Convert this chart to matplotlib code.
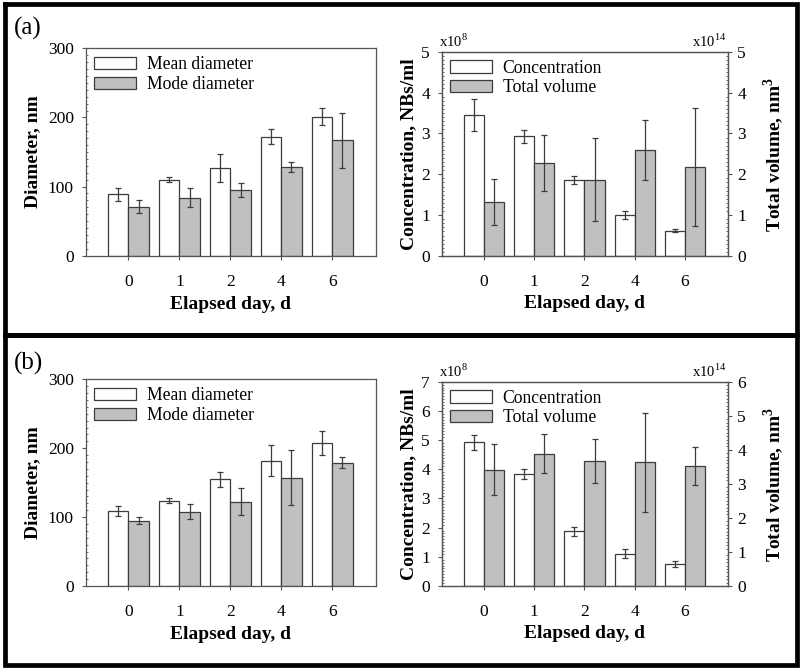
import numpy as np
import matplotlib
matplotlib.use("Agg")
import matplotlib.pyplot as plt
from matplotlib.ticker import AutoMinorLocator, MultipleLocator
from matplotlib.lines import Line2D

plt.rcParams['font.family'] = ['Liberation Serif', 'DejaVu Serif']
plt.rcParams['mathtext.fontset'] = 'custom'
plt.rcParams['mathtext.rm'] = 'Liberation Serif'
plt.rcParams['mathtext.bf'] = 'Liberation Serif:bold'

days = ['0', '1', '2', '4', '6']

# panel (a)
mean_a = [89, 110, 127, 172, 201]
mean_a_err = [9.6, 3.9, 20.7, 11, 12.6]
mode_a = [71, 84, 95, 128, 167]
mode_a_err = [9.6, 13.3, 10.6, 7.5, 39.8]
conc_a = [3.45, 2.93, 1.86, 1.01, 0.62]          # x10^8 NBs/ml
conc_a_err = [0.39, 0.16, 0.11, 0.10, 0.03]
vol_a = [1.32, 2.27, 1.87, 2.60, 2.18]           # x10^14 nm^3
vol_a_err = [0.57, 0.69, 1.01, 0.73, 1.45]

# panel (b)
mean_b = [109, 124, 155, 182, 208]
mean_b_err = [7.3, 3.9, 10.9, 23, 17.4]
mode_b = [95, 108, 122, 157, 179]
mode_b_err = [5.1, 10.4, 19.6, 40, 8.3]
conc_b = [4.93, 3.85, 1.87, 1.11, 0.74]
conc_b_err = [0.26, 0.17, 0.15, 0.16, 0.10]
vol_b = [3.42, 3.89, 3.67, 3.63, 3.52]
vol_b_err = [0.76, 0.57, 0.65, 1.46, 0.55]

W, H = 800, 669
fig = plt.figure(figsize=(W / 100, H / 100), dpi=100)

EDGE = '#3c3c3c'
GRAY = '#c0c0c0'
TICK_FS = 12.5
LABEL_FS = 14
ekw = dict(ecolor='#3c3c3c', elinewidth=0.9, capsize=2.5, capthick=0.9)


def box(l, t, r, b):
    return [l / W, 1 - b / H, (r - l) / W, (b - t) / H]


def style(ax, ymax, major):
    x = np.arange(len(days))
    ax.set_xlim(-0.84, 4.85)
    ax.set_ylim(0, ymax)
    ax.set_xticks(x)
    ax.set_xticklabels(days)
    ax.yaxis.set_major_locator(MultipleLocator(major))
    ax.yaxis.set_minor_locator(AutoMinorLocator(10))
    ax.tick_params(axis='x', which='both', direction='out', length=3, pad=10,
                   labelsize=TICK_FS, color='#555555', top=False)
    ax.tick_params(axis='y', which='major', direction='out', length=3, pad=5.5,
                   labelsize=TICK_FS, color='#555555', right=False)
    ax.tick_params(axis='y', which='minor', direction='in', length=1.5,
                   width=0.6, color='#555555', right=False)
    for s in ax.spines.values():
        s.set_color('#555555')
        s.set_linewidth(0.9)
    ax.set_xlabel('Elapsed day, d', fontsize=LABEL_FS, fontweight='bold')
    ax.xaxis.set_label_coords(0.5, -0.192)
    ax.xaxis.label.set_va('top')


def legend(ax, handles, labels):
    ax.legend(handles, labels, loc='upper left', bbox_to_anchor=(0.0, 1.0),
              frameon=False, fontsize=12.7, handlelength=2.4,
              handleheight=0.68, handletextpad=0.6, labelspacing=0.16,
              borderaxespad=0.3, borderpad=0.15)


def diameter_plot(rect, mean, mean_err, mode, mode_err):
    ax = fig.add_axes(rect)
    x = np.arange(len(days))
    b1 = ax.bar(x - 0.2, mean, 0.4, yerr=mean_err, color='white',
                edgecolor=EDGE, linewidth=0.9, error_kw=ekw)
    b2 = ax.bar(x + 0.2, mode, 0.4, yerr=mode_err, color=GRAY,
                edgecolor=EDGE, linewidth=0.9, error_kw=ekw)
    style(ax, 300, 100)
    ax.set_ylabel('Diameter, nm', fontsize=LABEL_FS, fontweight='bold')
    ax.yaxis.set_label_coords(-0.155, 0.5)
    legend(ax, [b1, b2], ['Mean diameter', 'Mode diameter'])
    return ax


def conc_plot(rect, conc, conc_err, vol, vol_err, lmax, rmax):
    ax = fig.add_axes(rect)
    x = np.arange(len(days))
    b1 = ax.bar(x - 0.2, conc, 0.4, yerr=conc_err, color='white',
                edgecolor=EDGE, linewidth=0.9, error_kw=ekw)
    style(ax, lmax, 1)
    ax.set_ylabel('Concentration, NBs/ml', fontsize=LABEL_FS, fontweight='bold')
    ax.yaxis.set_label_coords(-0.085, 0.5)
    ax2 = ax.twinx()
    b2 = ax2.bar(x + 0.2, vol, 0.4, yerr=vol_err, color=GRAY,
                 edgecolor=EDGE, linewidth=0.9, error_kw=ekw)
    ax2.set_ylim(0, rmax)
    ax2.yaxis.set_major_locator(MultipleLocator(1))
    ax2.yaxis.set_minor_locator(AutoMinorLocator(10))
    ax2.tick_params(axis='y', which='major', direction='out', length=3, pad=4,
                    labelsize=TICK_FS, color='#555555')
    ax2.tick_params(axis='y', which='minor', direction='in', length=1.5,
                    width=0.6, color='#555555')
    for s in ax2.spines.values():
        s.set_color('#555555')
        s.set_linewidth(0.9)
    ax2.set_ylabel(r'Total volume, nm$^\mathbf{3}$', fontsize=LABEL_FS,
                   fontweight='bold', rotation=90)
    ax2.yaxis.set_label_coords(1.12, 0.5)
    ax2.text(-0.01, 1.01, r'x10$^{8}$', transform=ax.transAxes, fontsize=10.5,
             ha='left', va='bottom')
    ax2.text(0.995, 1.01, r'x10$^{14}$', transform=ax.transAxes, fontsize=10.5,
             ha='right', va='bottom')
    legend(ax2, [b1, b2], ['Concentration', 'Total volume'])
    return ax, ax2


diameter_plot(box(85.7, 48.3, 375.5, 255.7), mean_a, mean_a_err, mode_a, mode_a_err)
conc_plot(box(441.7, 51.7, 727.7, 256), conc_a, conc_a_err, vol_a, vol_a_err, 5, 5)
diameter_plot(box(85.7, 379.3, 375.5, 586), mean_b, mean_b_err, mode_b, mode_b_err)
conc_plot(box(441.7, 381.7, 727.7, 586), conc_b, conc_b_err, vol_b, vol_b_err, 7, 6)

fig.text(14 / W, 1 - 28 / H, '(a)', fontsize=18, ha='left', va='center')
fig.text(14 / W, 1 - 363 / H, '(b)', fontsize=18, ha='left', va='center')

# black frames around the two panels
for t, b in [(3.5, 335), (335, 665)]:
    xs = np.array([5, 797, 797, 5, 5]) / W
    ys = 1 - np.array([t, t, b, b, t]) / H
    fig.add_artist(Line2D(xs, ys, transform=fig.transFigure, color='black',
                          linewidth=3.4, solid_joinstyle='miter'))

fig.savefig('out.png', dpi=100)
